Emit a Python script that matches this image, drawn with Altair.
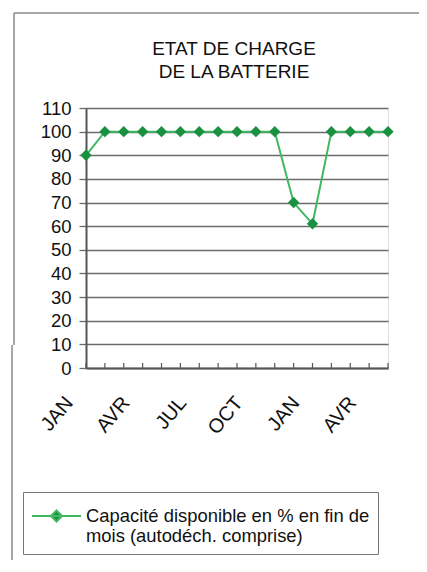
import altair as alt
import pandas as pd

# ---- data ----
months = ["JAN", "FEV", "MAR", "AVR", "MAI", "JUN", "JUL", "AOU", "SEP",
          "OCT", "NOV", "DEC", "JAN", "FEV", "MAR", "AVR", "MAI"]
values = [90, 100, 100, 100, 100, 100, 100, 100, 100, 100, 100, 70, 61,
          100, 100, 100, 100]
y_ticks = [0, 10, 20, 30, 40, 50, 60, 70, 80, 90, 100, 110]
series_lines = ["Capacité disponible en % en fin de", "mois (autodéch. comprise)"]
title_lines = ["ETAT DE CHARGE", "DE LA BATTERIE"]

keys = [f"{m}-{i}" for i, m in enumerate(months)]
label_keys = keys[::3]
series_name = "\n".join(series_lines)

df = pd.DataFrame({"key": keys, "value": values, "series": series_name})
one = pd.DataFrame({"t": [0]})

LINE = "#3fb861"
MARK = "#1a9140"
GRID = "#6b6b6e"
FONT = "Liberation Sans"
TXT = "#111111"

W, H = 302, 260

x = alt.X(
    "key:O",
    sort=keys,
    scale=alt.Scale(type="point", padding=0),
    axis=alt.Axis(
        values=label_keys,
        labelExpr="split(datum.label, '-')[0]",
        labelAngle=-50,
        labelAlign="right",
        labelBaseline="middle",
        labelFlush=False,
        labelOverlap=False,
        labelFontSize=20,
        labelFont=FONT,
        labelColor=TXT,
        labelPadding=31,
        labelOffset=-17,
        ticks=False,
        grid=False,
        domainColor="#555555",
        domainWidth=2,
        title=None,
    ),
)
y = alt.Y(
    "value:Q",
    scale=alt.Scale(domain=[0, 110], nice=False),
    axis=alt.Axis(
        values=y_ticks,
        grid=True,
        gridColor=GRID,
        gridWidth=1.3,
        tickColor=GRID,
        tickSize=7,
        tickWidth=1.3,
        domainColor="#555555",
        domainWidth=2,
        labelFontSize=18.5,
        labelFont=FONT,
        labelColor=TXT,
        labelPadding=8,
        title=None,
    ),
)

base = alt.Chart(df)

ticks = base.mark_rule(color="#555555", strokeWidth=1.2).encode(
    x=x, y=alt.value(H), y2=alt.value(H - 5)
)

line = base.mark_line(color=LINE, strokeWidth=2).encode(x=x, y=y)

# legend glyph: a line segment with a diamond on it (symbol box is 30 px)
symbol_path = "M-1,0H2.267M0.633,-0.367L1,0L0.633,0.367L0.267,0Z"

points = base.mark_point(filled=True, shape="diamond", size=130, opacity=1).encode(
    x=x,
    y=y,
    color=alt.Color(
        "series:N",
        scale=alt.Scale(range=[MARK]),
        legend=alt.Legend(
            title=None,
            orient="none",
            legendX=-63,
            legendY=384,
            symbolType=symbol_path,
            symbolSize=900,
            symbolStrokeColor=LINE,
            symbolStrokeWidth=2,
            symbolFillColor=MARK,
            labelFontSize=18.4,
            labelFont=FONT,
            labelColor=TXT,
            labelExpr="split(datum.label, '\\n')",
            labelLimit=400,
            labelOffset=23,
            strokeColor="#777777",
            padding=8,
        ),
    ),
)

title = alt.Chart(one).mark_text(
    text=title_lines,
    fontSize=19,
    font=FONT,
    color=TXT,
    lineHeight=22.5,
    align="center",
    baseline="alphabetic",
).encode(x=alt.value(148), y=alt.value(-53))

# outer frame of the original figure (decoration)
frame = alt.Chart(one)
frame_top = frame.mark_rule(color="#8a8a8a", strokeWidth=1.5).encode(
    x=alt.value(-72), x2=alt.value(W + 31), y=alt.value(-95)
)
frame_left1 = frame.mark_rule(color="#8a8a8a", strokeWidth=1.5).encode(
    x=alt.value(-72), y=alt.value(-95), y2=alt.value(237)
)
frame_left2 = frame.mark_rule(color="#8a8a8a", strokeWidth=1.5).encode(
    x=alt.value(-74), y=alt.value(237), y2=alt.value(452)
)

chart = (
    alt.layer(ticks, line, points, title, frame_top, frame_left1, frame_left2)
    .properties(
        width=W,
        height=H,
        autosize=alt.AutoSizeParams(type="none"),
        padding={"left": 78, "top": 100, "right": 31, "bottom": 192},
    )
    .configure_view(fill="#d7d8da", stroke=GRID, strokeWidth=1.5)
    .configure(background="white")
)

chart.save("out.html", embed_options={"renderer": "svg", "actions": False})
